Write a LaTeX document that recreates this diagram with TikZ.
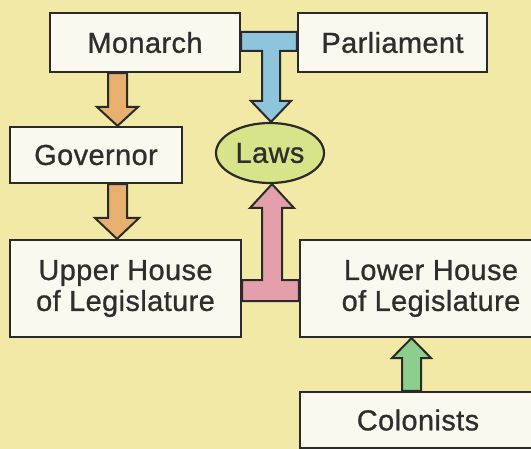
\documentclass[tikz,border=0pt]{standalone}
\usepackage{fontspec}
\setmainfont[FakeBold=0.9,LetterSpace=1.5]{Liberation Sans}
\usetikzlibrary{shapes.geometric,backgrounds}
\definecolor{bgc}{HTML}{F2E9A6}
\definecolor{boxfill}{HTML}{FAF9F0}
\definecolor{bord}{HTML}{2A2A2A}
\definecolor{txt}{HTML}{2E2E2E}
\definecolor{orangeA}{HTML}{E8B06E}
\definecolor{blueA}{HTML}{8EC4DC}
\definecolor{pinkA}{HTML}{E4A0AA}
\definecolor{greenA}{HTML}{8CCF8D}
\definecolor{lawsc}{HTML}{D8E48A}
\begin{document}
\begin{tikzpicture}[x=1bp,y=-1bp,
  boxbase/.style={draw=bord, line width=2.2bp, fill=boxfill, inner sep=0pt, text=txt,
    font=\fontsize{29}{31}\selectfont},
  box/.style={boxbase, align=center},
  fat/.style={draw=bord, line width=2bp, line join=miter}]
\useasboundingbox (0,0) rectangle (531,449);
\node[box, minimum width=190bp, minimum height=59bp] (mon) at (145,42.5) {Monarch};
\node[box, minimum width=189bp, minimum height=59bp] (par) at (392.5,42.5) {Parliament};
\node[box, minimum width=172bp, minimum height=56bp] (gov) at (96,155) {Governor};
\node[box, ellipse, fill=lawsc, minimum width=108bp, minimum height=60bp] (laws) at (270,153) {Laws};
\node[box, minimum width=231bp, minimum height=97bp] (up) at (125.5,288.5) {Upper House\\of Legislature};
\node[boxbase, minimum width=262bp, minimum height=97bp] (low) at (431,288.5)
  {\parbox{222bp}{\centering Lower House\\of Legislature}\hspace{40bp}};
\node[box, minimum width=236bp, minimum height=56bp] (col) at (418,420) {Colonists};
\begin{scope}[on background layer]
\fill[bgc] (0,0) rectangle (531,449);
% Monarch -> Governor
\draw[fat, fill=orangeA] (108,0 |- mon.south) -- (127,0 |- mon.south) -- (127,107) -- (138,107)
  -- (117.5,0 |- gov.north) -- (97,107) -- (108,107) -- cycle;
% Governor -> Upper House
\draw[fat, fill=orangeA] (108,0 |- gov.south) -- (127,0 |- gov.south) -- (127,218) -- (139,218)
  -- (117,0 |- up.north) -- (95,218) -- (108,218) -- cycle;
% Monarch + Parliament -> Laws
\draw[fat, fill=blueA] (mon.east |- 0,32) -- (par.west |- 0,32) -- (par.west |- 0,51) -- (280,51)
  -- (280,101) -- (291,101) -- (271,0 |- laws.north) -- (251,101) -- (262,101) -- (262,51)
  -- (mon.east |- 0,51) -- cycle;
% Upper + Lower House -> Laws
\draw[fat, fill=pinkA] (up.east |- 0,301) -- (up.east |- 0,280) -- (262,280) -- (262,208)
  -- (250,208) -- (272,0 |- laws.south) -- (294,208) -- (282,208) -- (282,280)
  -- (low.west |- 0,280) -- (low.west |- 0,301) -- cycle;
% Colonists -> Lower House
\draw[fat, fill=greenA] (402,0 |- col.north) -- (402,358) -- (392,358) -- (411.5,0 |- low.south)
  -- (431,358) -- (421,358) -- (421,0 |- col.north) -- cycle;
\end{scope}
\end{tikzpicture}
\end{document}
